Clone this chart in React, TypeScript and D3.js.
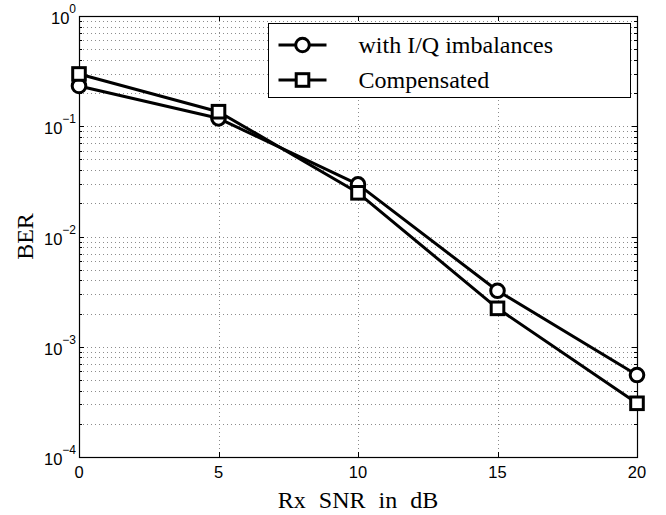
import React, { useRef, useEffect } from 'react';
import * as d3 from 'd3';

// data
const snr = [0, 5, 10, 15, 20];
const berImbalance = [0.232, 0.118, 0.0297, 0.00322, 0.000554];
const berCompensated = [0.298, 0.1355, 0.0249, 0.00223, 0.000307];
const xTicks = [0, 5, 10, 15, 20];
const yDecades = [0, -1, -2, -3, -4];
const legendLabels = ['with I/Q imbalances', 'Compensated'];

const App = () => {
  const svgRef = useRef<SVGSVGElement>(null);

  useEffect(() => {
    const svg = d3.select(svgRef.current);
    svg.selectAll('*').remove();

    const margin = { top: 16, right: 29, bottom: 58, left: 79 };
    const width = 666 - margin.left - margin.right;
    const height = 515 - margin.top - margin.bottom;

    const x = d3.scaleLinear().domain([0, 20]).range([0, width]);
    const y = d3.scaleLog().domain([1e-4, 1]).range([height, 0]);

    const g = svg.append('g').attr('transform', `translate(${margin.left},${margin.top})`);

    // minor + major values for the log grid
    const minorVals: number[] = [];
    for (let e = -4; e < 0; e++) {
      for (let m = 2; m <= 9; m++) minorVals.push(m * Math.pow(10, e));
    }
    const majorVals = yDecades.map((e) => Math.pow(10, e));

    const grid = g.append('g')
      .attr('stroke', '#8c8c8c')
      .attr('stroke-width', 1)
      .attr('stroke-dasharray', '1,3');

    grid.selectAll('.hgrid')
      .data([...minorVals, ...majorVals.slice(1, -1)])
      .enter()
      .append('line')
      .attr('x1', 0)
      .attr('x2', width)
      .attr('y1', (d) => Math.round(y(d)) + 0.5)
      .attr('y2', (d) => Math.round(y(d)) + 0.5);

    grid.selectAll('.vgrid')
      .data(xTicks.slice(1, -1))
      .enter()
      .append('line')
      .attr('y1', 0)
      .attr('y2', height)
      .attr('x1', (d) => Math.round(x(d)) + 0.5)
      .attr('x2', (d) => Math.round(x(d)) + 0.5);

    // ticks inside, on all four sides
    const ticks = g.append('g').attr('stroke', '#000').attr('stroke-width', 1);
    xTicks.forEach((t) => {
      const px = Math.round(x(t)) + 0.5;
      ticks.append('line').attr('x1', px).attr('x2', px).attr('y1', height).attr('y2', height - 5);
      ticks.append('line').attr('x1', px).attr('x2', px).attr('y1', 0).attr('y2', 5);
    });
    majorVals.forEach((v) => {
      const py = Math.round(y(v)) + 0.5;
      ticks.append('line').attr('x1', 0).attr('x2', 5).attr('y1', py).attr('y2', py);
      ticks.append('line').attr('x1', width).attr('x2', width - 5).attr('y1', py).attr('y2', py);
    });
    minorVals.forEach((v) => {
      const py = Math.round(y(v)) + 0.5;
      ticks.append('line').attr('x1', 0).attr('x2', 3).attr('y1', py).attr('y2', py);
      ticks.append('line').attr('x1', width).attr('x2', width - 3).attr('y1', py).attr('y2', py);
    });

    // axes box
    g.append('rect')
      .attr('x', 0.5)
      .attr('y', 0.5)
      .attr('width', width)
      .attr('height', height)
      .attr('fill', 'none')
      .attr('stroke', '#000')
      .attr('stroke-width', 1.2);

    // tick labels
    const tickFont = '"Liberation Sans", Arial, sans-serif';
    g.selectAll('.xlab')
      .data(xTicks)
      .enter()
      .append('text')
      .attr('x', (d) => x(d))
      .attr('y', height + 21)
      .attr('text-anchor', 'middle')
      .attr('font-family', tickFont)
      .attr('font-size', 16.5)
      .text((d) => d);

    const ylab = g.selectAll('.ylab')
      .data(yDecades)
      .enter()
      .append('text')
      .attr('x', -3)
      .attr('y', (d) => y(Math.pow(10, d)) + 8)
      .attr('text-anchor', 'end')
      .attr('font-family', tickFont)
      .attr('font-size', 16.5);
    ylab.append('tspan').text('10');
    ylab.append('tspan')
      .attr('dy', -11)
      .attr('font-size', 12)
      .text((d) => (d === 0 ? '0' : `\u2212${-d}`));

    // series
    const line = d3.line<number>()
      .x((_, i) => x(snr[i]))
      .y((d) => y(d));

    const series = [
      { values: berImbalance, marker: 'circle' },
      { values: berCompensated, marker: 'square' },
    ];

    series.forEach((s) => {
      g.append('path')
        .datum(s.values)
        .attr('d', line)
        .attr('fill', 'none')
        .attr('stroke', '#000')
        .attr('stroke-width', 3)
        .attr('stroke-linejoin', 'round');
    });
    series.forEach((s) => {
      const pts = g.selectAll(`.m-${s.marker}`)
        .data(s.values)
        .enter();
      if (s.marker === 'circle') {
        pts.append('circle')
          .attr('cx', (_, i) => x(snr[i]))
          .attr('cy', (d) => y(d))
          .attr('r', 6.8)
          .attr('fill', '#fff')
          .attr('stroke', '#000')
          .attr('stroke-width', 3);
      } else {
        pts.append('rect')
          .attr('x', (_, i) => x(snr[i]) - 6.3)
          .attr('y', (d) => y(d) - 6.3)
          .attr('width', 12.6)
          .attr('height', 12.6)
          .attr('fill', '#fff')
          .attr('stroke', '#000')
          .attr('stroke-width', 3);
      }
    });

    // axis titles
    const serif = '"Liberation Serif", "Times New Roman", serif';
    svg.append('text')
      .attr('x', margin.left + width / 2)
      .attr('y', 508)
      .attr('text-anchor', 'middle')
      .attr('font-family', serif)
      .attr('font-size', 24)
      .attr('word-spacing', 7)
      .text('Rx SNR in dB');

    svg.append('text')
      .attr('transform', `translate(33, ${margin.top + height / 2}) rotate(-90)`)
      .attr('text-anchor', 'middle')
      .attr('font-family', serif)
      .attr('font-size', 24)
      .text('BER');

    // legend
    const lg = svg.append('g').attr('transform', 'translate(268.5, 23.5)');
    lg.append('rect')
      .attr('width', 362)
      .attr('height', 74)
      .attr('fill', '#fff')
      .attr('stroke', '#000')
      .attr('stroke-width', 1);

    legendLabels.forEach((label, i) => {
      const cy = 21.5 + i * 35;
      lg.append('line')
        .attr('x1', 10)
        .attr('x2', 58)
        .attr('y1', cy)
        .attr('y2', cy)
        .attr('stroke', '#000')
        .attr('stroke-width', 3);
      if (i === 0) {
        lg.append('circle')
          .attr('cx', 34)
          .attr('cy', cy)
          .attr('r', 6.8)
          .attr('fill', '#fff')
          .attr('stroke', '#000')
          .attr('stroke-width', 3);
      } else {
        lg.append('rect')
          .attr('x', 34 - 6.3)
          .attr('y', cy - 6.3)
          .attr('width', 12.6)
          .attr('height', 12.6)
          .attr('fill', '#fff')
          .attr('stroke', '#000')
          .attr('stroke-width', 3);
      }
      lg.append('text')
        .attr('x', 90)
        .attr('y', cy + 8)
        .attr('font-family', serif)
        .attr('font-size', 24)
        .text(label);
    });
  }, []);

  return (
    <div>
      <svg
        ref={svgRef}
        width={666}
        height={515}
        style={{ position: 'absolute', left: 0, top: 0, display: 'block' }}
      />
    </div>
  );
};

export default App;
